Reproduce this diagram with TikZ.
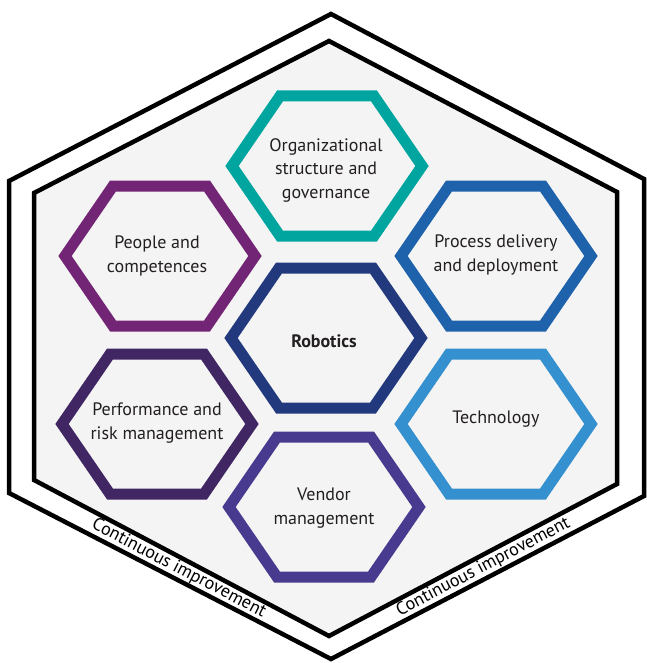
\documentclass[tikz,border=0pt]{standalone}
\usepackage{fontspec}
\setmainfont{PT Sans}
\usepackage{xcolor}
\usepackage{tikz}
\usetikzlibrary{calc}

\definecolor{orgteal}{RGB}{0,165,160}
\definecolor{procblue}{RGB}{30,98,172}
\definecolor{techblue}{RGB}{52,144,206}
\definecolor{robonavy}{RGB}{34,58,125}
\definecolor{vendpurple}{RGB}{71,58,143}
\definecolor{perfpurple}{RGB}{64,38,98}
\definecolor{peoplepurple}{RGB}{114,37,116}
\definecolor{panelgray}{RGB}{244,244,244}
\definecolor{inkgray}{RGB}{35,31,32}

\begin{document}
\begin{tikzpicture}[
  x=1pt, y=-1pt,
  ring/.style={line width=4.5pt, line join=miter},
  cell/.pic={\draw[line width=11pt, line join=miter]
    (-95,0) -- (-47,-70) -- (47,-70) -- (95,0) -- (47,70) -- (-47,70) -- cycle;},
  txt/.style={font=\fontsize{18}{23.5}\selectfont, text=inkgray, align=center},
  cilabel/.style={font=\fontsize{18}{20}\selectfont, text=black, inner sep=0pt}
]
\useasboundingbox (0,0) rectangle (646,663);

% outer frame
\coordinate (o1) at (331,14);
\coordinate (o2) at (644,179);
\coordinate (o3) at (644,496);
\coordinate (o4) at (331,659);
\coordinate (o5) at (9,493);
\coordinate (o6) at (9,181);
\draw[ring] (o1) -- (o2) -- (o3) -- (o4) -- (o5) -- (o6) -- cycle;

% grey panel
\coordinate (i1) at (329,41);
\coordinate (i2) at (617,192);
\coordinate (i3) at (617,484);
\coordinate (i4) at (329,636);
\coordinate (i5) at (34,480);
\coordinate (i6) at (34,193);
\draw[ring, fill=panelgray] (i1) -- (i2) -- (i3) -- (i4) -- (i5) -- (i6) -- cycle;

% hexagon cells
\pic[color=orgteal] at (327,166) {cell};
\pic[color=robonavy] at (326,338) {cell};
\pic[color=vendpurple] at (324,507) {cell};
\pic[color=peoplepurple] at (160,256) {cell};
\pic[color=perfpurple] at (157,424) {cell};
\pic[color=procblue] at (496,256) {cell};
\pic[color=techblue] at (496,424) {cell};

\node[txt] (org) at (326,170) {Organizational\\structure and\\governance};
\node[txt] (robotics) at (324,341) {\textbf{Robotics}};
\node[txt] (vendor) at (324,508) {Vendor\\management};
\node[txt] (people) at (157,256) {People and\\competences};
\node[txt] (perf) at (157,423) {Performance and\\risk management};
\node[txt] (proc) at (496,255) {Process delivery\\and deployment};
\node[txt] (tech) at (496,419) {Technology};

% labels between the frames
\coordinate (lA) at ($(o5)!0.5!(i5)$);
\coordinate (lB) at ($(o4)!0.5!(i4)$);
\coordinate (rA) at ($(o4)!0.5!(i4)$);
\coordinate (rB) at ($(o3)!0.5!(i3)$);
\path (lA) -- node[cilabel, sloped, pos=0.51] (cileft) {Continuous improvement} (lB);
\path (rA) -- node[cilabel, sloped, pos=0.51] (ciright) {Continuous improvement} (rB);
\end{tikzpicture}
\end{document}
